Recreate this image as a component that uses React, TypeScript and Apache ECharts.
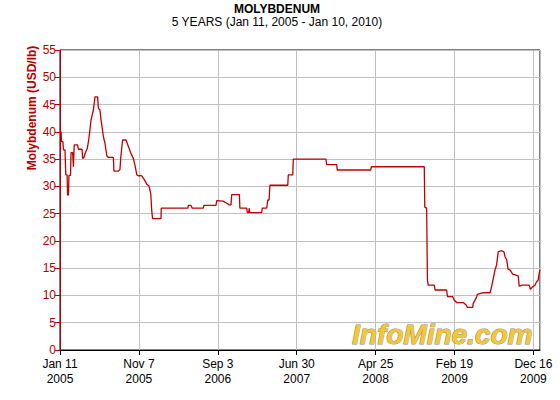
import React, { useEffect, useRef } from 'react';
import * as echarts from 'echarts';

const START_UTC = Date.UTC(2005, 0, 11);
const TOTAL_DAYS = 1825;
const TICK_DAYS = 300;
const MONTHS = ['Jan', 'Feb', 'Mar', 'Apr', 'May', 'Jun', 'Jul', 'Aug', 'Sep', 'Oct', 'Nov', 'Dec'];

// days since Jan 11, 2005
const dayOffsets = [
  0, 4, 6, 11, 13, 19, 22, 27, 29, 32, 34, 40, 42, 48, 51, 52, 54, 67, 70, 84,
  86, 91, 95, 104, 110, 118, 127, 133, 143, 146, 152, 156, 165, 171, 178, 184, 203, 205, 222, 228,
  231, 238, 251, 260, 270, 279, 285, 292, 300, 308, 313, 321, 330, 338, 345, 349, 352, 384, 385, 486,
  488, 498, 503, 545, 547, 593, 596, 620, 634, 644, 650, 653, 682, 684, 710, 712, 717, 720, 721, 767,
  769, 786, 790, 795, 798, 866, 868, 885, 887, 1011, 1014, 1052, 1054, 1181, 1184, 1385, 1387, 1394, 1397, 1400,
  1423, 1426, 1470, 1473, 1493, 1498, 1508, 1533, 1544, 1549, 1569, 1571, 1582, 1587, 1609, 1635, 1641, 1654, 1660, 1666,
  1679, 1688, 1692, 1698, 1704, 1711, 1721, 1742, 1746, 1759, 1784, 1789, 1797, 1806, 1812, 1818, 1822, 1825,
];

// USD/lb
const prices = [
  40.0, 40.0, 38.2, 38.2, 36.7, 36.7, 32.1, 32.1, 28.4, 28.4, 32.0, 32.0, 36.2, 36.2, 33.6, 33.6, 37.6, 37.6, 36.8, 36.8,
  35.1, 35.3, 36.0, 37.0, 38.8, 42.2, 44.0, 46.4, 46.4, 44.3, 44.0, 42.2, 39.1, 37.9, 35.6, 35.3, 35.3, 32.8, 32.8, 33.1,
  35.3, 38.5, 38.5, 37.3, 36.0, 35.1, 33.9, 32.1, 31.9, 32.0, 31.8, 31.2, 30.4, 30.1, 28.7, 25.4, 24.1, 24.1, 26.0, 26.0,
  26.5, 26.5, 26.0, 26.0, 26.5, 26.5, 27.4, 27.3, 26.9, 26.6, 26.6, 28.5, 28.5, 26.0, 26.0, 25.2, 25.2, 26.0, 25.2, 25.2,
  26.0, 26.0, 27.5, 27.5, 30.2, 30.2, 32.1, 32.1, 35.0, 35.0, 34.0, 34.0, 33.0, 33.0, 33.6, 33.6, 26.2, 26.0, 12.8, 11.9,
  11.9, 11.0, 11.0, 9.8, 9.8, 9.2, 8.7, 8.7, 8.25, 7.8, 7.8, 8.55, 9.5, 10.2, 10.5, 10.5, 11.6, 14.7, 15.6, 18.0,
  18.2, 18.0, 17.1, 16.6, 14.8, 14.7, 13.9, 13.6, 11.7, 11.9, 11.9, 11.1, 11.6, 11.9, 12.5, 12.8, 14.1, 14.7,
];

const yTicks = [0, 5, 10, 15, 20, 25, 30, 35, 40, 45, 50, 55];

const titleText = 'MOLYBDENUM';
const subtitleText = '5 YEARS (Jan 11, 2005 - Jan 10, 2010)';
const yAxisTitle = 'Molybdenum (USD/lb)';
const watermark = 'InfoMine.com';

const FONT = '"Liberation Sans", Arial, sans-serif';
const RED = '#b00000';

function dayLabel(d: number): string {
  if (d % TICK_DAYS !== 0) return '';
  const dt = new Date(START_UTC + d * 86400000);
  return `${MONTHS[dt.getUTCMonth()]} ${dt.getUTCDate()}\n${dt.getUTCFullYear()}`;
}

export default function App() {
  const ref = useRef<HTMLDivElement>(null);

  useEffect(() => {
    if (!ref.current) return;
    const chart = echarts.init(ref.current, null, { renderer: 'svg' });
    const data = dayOffsets.map((d, i) => [d, prices[i]]);
    chart.setOption({
      animation: false,
      backgroundColor: '#ffffff',
      grid: {
        left: 60,
        right: 20,
        top: 50,
        bottom: 50,
        show: true,
        borderColor: '#000000',
        borderWidth: 1,
        backgroundColor: 'transparent',
      },
      xAxis: {
        type: 'value',
        min: 0,
        max: TOTAL_DAYS,
        interval: TICK_DAYS,
        axisLine: { show: true, lineStyle: { color: '#000000', width: 1 } },
        axisTick: { show: true, length: 5, lineStyle: { color: '#000000' } },
        axisLabel: {
          color: '#000000',
          fontFamily: FONT,
          fontSize: 12,
          lineHeight: 15,
          margin: 6,
          showMaxLabel: false,
          formatter: (v: number) => dayLabel(v),
        },
        splitLine: { show: true, lineStyle: { color: '#c0c0c0', width: 1 } },
      },
      yAxis: {
        type: 'value',
        min: yTicks[0],
        max: yTicks[yTicks.length - 1],
        interval: 5,
        axisLine: { show: true, lineStyle: { color: RED, width: 1 } },
        axisTick: { show: true, length: 5, lineStyle: { color: RED } },
        axisLabel: {
          color: RED,
          fontFamily: FONT,
          fontSize: 12,
          margin: 4,
        },
        splitLine: { show: true, lineStyle: { color: '#c0c0c0', width: 1 } },
      },
      graphic: [
        {
          type: 'text',
          x: 277,
          y: 3,
          style: {
            text: titleText,
            fill: '#000000',
            font: `bold 12px ${FONT}`,
            textAlign: 'center',
            textVerticalAlign: 'top',
          },
        },
        {
          type: 'text',
          x: 277,
          y: 16,
          style: {
            text: subtitleText,
            fill: '#000000',
            font: `12px ${FONT}`,
            textAlign: 'center',
            textVerticalAlign: 'top',
          },
        },
        {
          type: 'text',
          x: 32,
          y: 108,
          rotation: Math.PI / 2,
          style: {
            text: yAxisTitle,
            fill: RED,
            font: `bold 12px ${FONT}`,
            textAlign: 'center',
            textVerticalAlign: 'middle',
          },
        },
        {
          type: 'text',
          x: 352,
          y: 334,
          z: 10,
          style: {
            text: watermark,
            fill: '#f5c830',
            stroke: '#8a8a8a',
            lineWidth: 1,
            font: `italic bold 28px ${FONT}`,
            textAlign: 'left',
            textVerticalAlign: 'middle',
          },
        },
      ],
      series: [
        {
          type: 'line',
          data,
          showSymbol: false,
          symbol: 'none',
          lineStyle: { color: '#c00000', width: 1.3 },
          z: 5,
        },
      ],
    });
    return () => chart.dispose();
  }, []);

  return (
    <div
      ref={ref}
      style={{ position: 'fixed', left: 0, top: 0, width: 560, height: 400 }}
    />
  );
}
